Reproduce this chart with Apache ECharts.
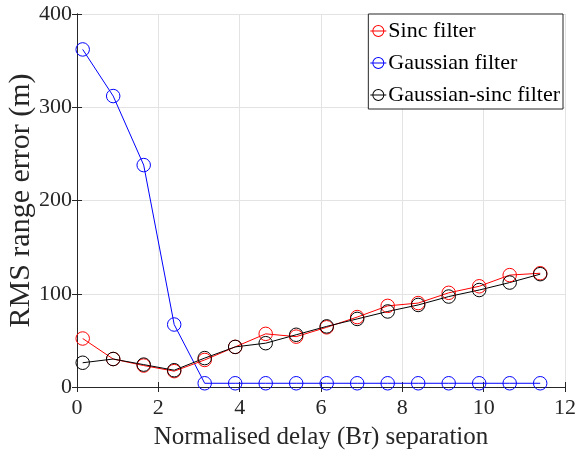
<!DOCTYPE html>
<html>
<head>
<meta charset="utf-8">
<script src="https://cdn.jsdelivr.net/npm/echarts@6/dist/echarts.min.js"></script>
<style>
  html, body { margin: 0; padding: 0; background: #fff; }
  #chart { width: 578px; height: 457px; }
</style>
</head>
<body>
<div id="chart"></div>
<script>
// x positions (normalised delay B*tau)
var delays = [0.14, 0.89, 1.64, 2.39, 3.14, 3.89, 4.64, 5.39, 6.14, 6.89, 7.64, 8.39, 9.14, 9.89, 10.64, 11.39];
var sincErr = [52, 30, 23, 17, 29, 43, 57, 54, 64, 75, 87, 90, 101, 108, 120, 122];
var gaussErr = [362, 312, 238, 67, 4, 4, 4, 4, 4, 4, 4, 4, 4, 4, 4, 4];
var gaussSincErr = [26, 30, 24, 18, 31, 43, 47, 56, 65, 73, 81, 88, 97, 104, 112, 121];
var xTicks = [0, 2, 4, 6, 8, 10, 12];
var yTicks = [0, 100, 200, 300, 400];

function pairs(ys) {
  return delays.map(function (x, i) { return [x, ys[i]]; });
}

var font = "Liberation Serif";
var axisColor = "#262626";
// legend marker: open circle with a line through it
var legendIcon = "path://M2,6A6,6 0 1,1 14,6A6,6 0 1,1 2,6Z" +
  "M3,6A5,5 0 1,0 13,6A5,5 0 1,0 3,6Z" +
  "M0,5.5H16V6.5H0Z";

var myChart = echarts.init(document.getElementById("chart"));

function mkSeries(name, ys, color) {
  return {
    name: name,
    type: "line",
    data: pairs(ys),
    symbol: "circle",
    symbolSize: 13.5,
    lineStyle: { color: color, width: 1 },
    // open markers, the line shows through them
    itemStyle: { color: "transparent", borderColor: color, borderWidth: 1 },
    animation: false
  };
}

myChart.setOption({
  animation: false,
  grid: { left: 77, right: 13, top: 14, bottom: 70, show: false, containLabel: false, outerBoundsMode: "none" },
  legend: {
    orient: "vertical",
    right: 15,
    top: 14,
    icon: legendIcon,
    itemWidth: 16,
    itemHeight: 12,
    itemGap: 10,
    padding: [6, 3, 3, 2],
    borderColor: "#262626",
    borderWidth: 1,
    backgroundColor: "#fff",
    textStyle: { fontFamily: font, fontSize: 22, color: "#000", padding: [0, 0, 0, -3] },
    data: [
      { name: "Sinc filter", itemStyle: { color: "#ff0000", borderWidth: 0 } },
      { name: "Gaussian filter", itemStyle: { color: "#0000ff", borderWidth: 0 } },
      { name: "Gaussian-sinc filter", itemStyle: { color: "#000000", borderWidth: 0 } }
    ]
  },
  xAxis: [
    {
      type: "value",
      min: xTicks[0],
      max: xTicks[xTicks.length - 1],
      interval: 2,
      name: "Normalised delay (B{i|τ}) separation",
      nameLocation: "middle",
      nameGap: 38,
      nameMoveOverlap: false,
      nameTextStyle: {
        fontFamily: font, fontSize: 25, color: axisColor,
        rich: { i: { fontFamily: font, fontSize: 25, fontStyle: "italic", color: axisColor } }
      },
      axisLine: { show: true, lineStyle: { color: axisColor, width: 1 } },
      axisTick: { show: true, inside: true, length: 5, lineStyle: { color: axisColor } },
      axisLabel: { fontFamily: font, fontSize: 22, color: axisColor, margin: 10 },
      splitLine: { show: true, lineStyle: { color: "#e3e3e3", width: 1 } }
    },
    {
      type: "value",
      position: "top",
      min: xTicks[0],
      max: xTicks[xTicks.length - 1],
      interval: 2,
      axisLine: { show: true, lineStyle: { color: axisColor, width: 1 } },
      axisTick: { show: true, inside: true, length: 5, lineStyle: { color: axisColor } },
      axisLabel: { show: false },
      splitLine: { show: false }
    }
  ],
  yAxis: [
    {
      type: "value",
      min: yTicks[0],
      max: yTicks[yTicks.length - 1],
      interval: 100,
      name: "RMS range error (m)",
      nameLocation: "middle",
      nameGap: 41,
      nameMoveOverlap: false,
      nameTextStyle: { fontFamily: font, fontSize: 30, color: axisColor },
      axisLine: { show: true, lineStyle: { color: axisColor, width: 1 } },
      axisTick: { show: true, inside: true, length: 5, lineStyle: { color: axisColor } },
      axisLabel: { fontFamily: font, fontSize: 22, color: axisColor, margin: 5 },
      splitLine: { show: true, lineStyle: { color: "#e3e3e3", width: 1 } }
    },
    {
      type: "value",
      position: "right",
      min: yTicks[0],
      max: yTicks[yTicks.length - 1],
      interval: 100,
      axisLine: { show: true, lineStyle: { color: axisColor, width: 1 } },
      axisTick: { show: true, inside: true, length: 5, lineStyle: { color: axisColor } },
      axisLabel: { show: false },
      splitLine: { show: false }
    }
  ],
  series: [
    mkSeries("Gaussian filter", gaussErr, "#0000ff"),
    mkSeries("Sinc filter", sincErr, "#ff0000"),
    mkSeries("Gaussian-sinc filter", gaussSincErr, "#000000")
  ]
});
</script>
</body>
</html>
